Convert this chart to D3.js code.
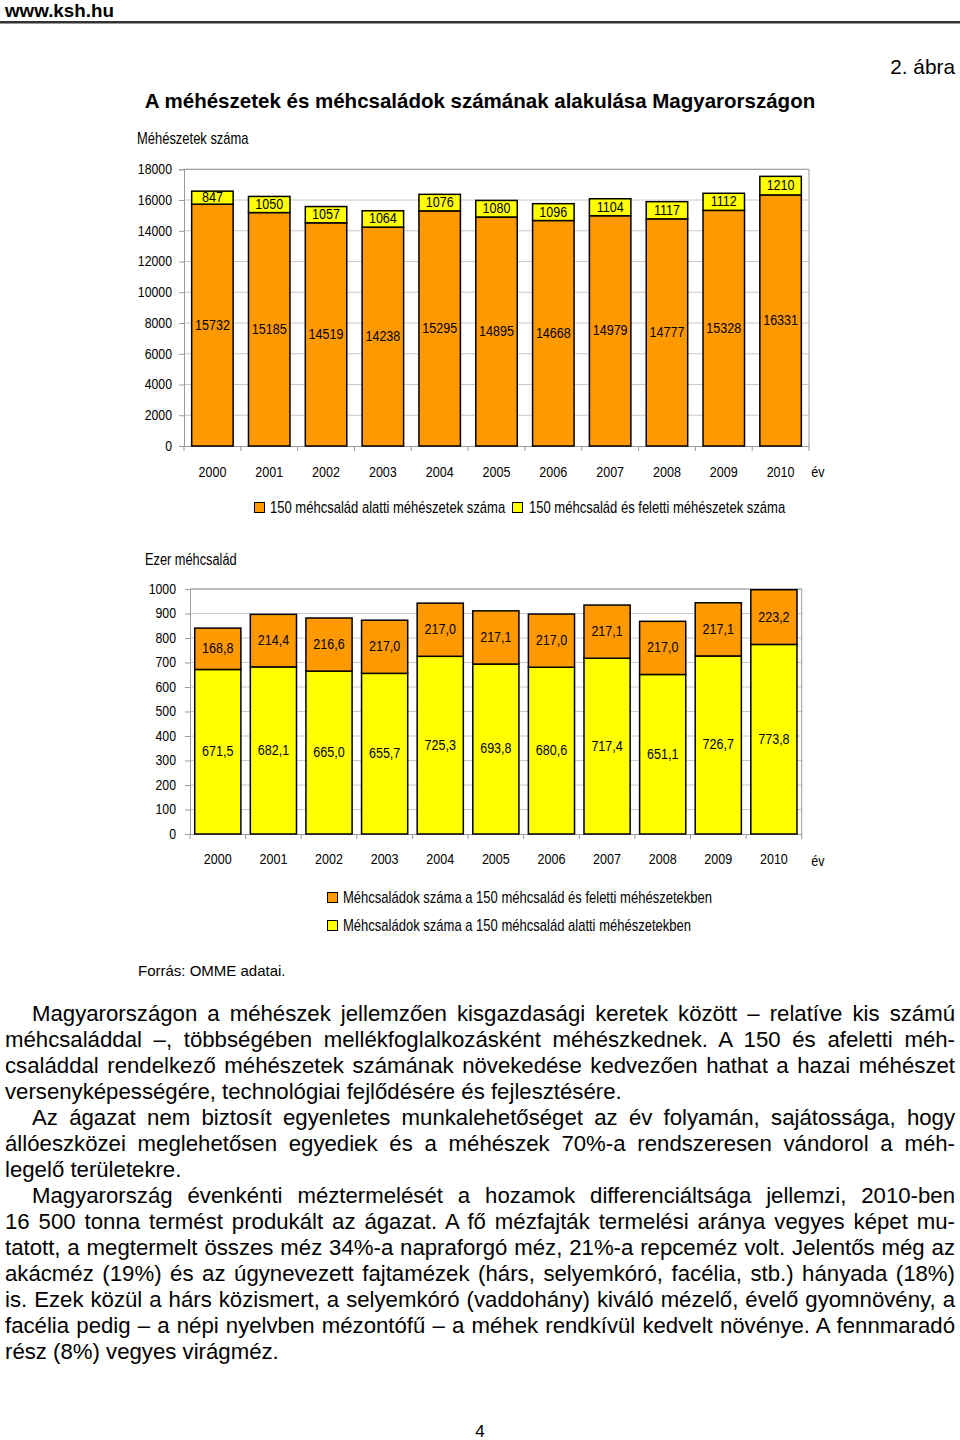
<!DOCTYPE html>
<html><head><meta charset="utf-8">
<script src="https://cdn.jsdelivr.net/npm/d3@7"></script>
<style>
html,body{margin:0;padding:0;background:#fff;}
#wrap{position:relative;width:960px;height:1440px;overflow:hidden;}
svg{position:absolute;left:0;top:0;}
.bl{position:absolute;left:5px;width:950px;height:26px;line-height:26px;font-family:"Liberation Sans",Arial,sans-serif;font-size:22.2px;color:#000;white-space:nowrap;}
.j{text-align:justify;text-align-last:justify;white-space:normal;}
.ind{padding-left:27px;width:923px;}
</style></head>
<body><div id="wrap"></div>
<script>
// ---------- data ----------
const years = ["2000","2001","2002","2003","2004","2005","2006","2007","2008","2009","2010"];
const apiariesUnder150 = [15732,15185,14519,14238,15295,14895,14668,14979,14777,15328,16331];
const apiariesOver150  = [847,1050,1057,1064,1076,1080,1096,1104,1117,1112,1210];
const coloniesUnder150 = [671.5,682.1,665.0,655.7,725.3,693.8,680.6,717.4,651.1,726.7,773.8];
const coloniesOver150  = [168.8,214.4,216.6,217.0,217.0,217.1,217.0,217.1,217.0,217.1,223.2];
const ticks1 = [0,2000,4000,6000,8000,10000,12000,14000,16000,18000];
const ticks2 = [0,100,200,300,400,500,600,700,800,900,1000];
const legend1 = ["150 méhcsalád alatti méhészetek száma","150 méhcsalád és feletti méhészetek száma"];
const legend2 = ["Méhcsaládok száma a 150 méhcsalád és feletti méhészetekben","Méhcsaládok száma a 150 méhcsalád alatti méhészetekben"];
const bodyLines = [
 ["Magyarországon a méhészek jellemzően kisgazdasági keretek között – relatíve kis számú","ij"],
 ["méhcsaláddal –, többségében mellékfoglalkozásként méhészkednek. A 150 és afeletti méh-","j"],
 ["családdal rendelkező méhészetek számának növekedése kedvezően hathat a hazai méhészet","j"],
 ["versenyképességére, technológiai fejlődésére és fejlesztésére.",""],
 ["Az ágazat nem biztosít egyenletes munkalehetőséget az év folyamán, sajátossága, hogy","ij"],
 ["állóeszközei meglehetősen egyediek és a méhészek 70%-a rendszeresen vándorol a méh-","j"],
 ["legelő területekre.",""],
 ["Magyarország évenkénti méztermelését a hozamok differenciáltsága jellemzi, 2010-ben","ij"],
 ["16 500 tonna termést produkált az ágazat. A fő mézfajták termelési aránya vegyes képet mu-","j"],
 ["tatott, a megtermelt összes méz 34%-a napraforgó méz, 21%-a repceméz volt. Jelentős még az","j"],
 ["akácméz (19%) és az úgynevezett fajtamézek (hárs, selyemkóró, facélia, stb.) hányada (18%)","j"],
 ["is. Ezek közül a hárs közismert, a selyemkóró (vaddohány) kiváló mézelő, évelő gyomnövény, a","j"],
 ["facélia pedig – a népi nyelvben mézontófű – a méhek rendkívül kedvelt növénye. A fennmaradó","j"],
 ["rész (8%) vegyes virágméz.",""]
];

// ---------- font detection ----------
const cv = document.createElement("canvas").getContext("2d");
cv.font = '15px "Liberation Sans Narrow", monospace';
const wN = cv.measureText("2000 méhcsalád abc").width;
cv.font = '15px monospace';
const wM = cv.measureText("2000 méhcsalád abc").width;
const hasNarrow = Math.abs(wN - wM) > 0.5;
const NF = hasNarrow ? '"Liberation Sans Narrow"' : '"Liberation Sans"';
const SX = hasNarrow ? 1 : 0.82;
const RF = '"Liberation Sans"';

const ORANGE = "#FF9900", YELLOW = "#FFFF00", GRID = "#c8c8c8", AX = "#9a9a9a";

const wrap = d3.select("#wrap");
const svg = wrap.append("svg").attr("width",960).attr("height",1440);

function txt(g, x, y, s, o={}) {
  return g.append("text")
    .attr("transform", `translate(${x},${y}) scale(${o.sx!==undefined?o.sx:SX},1)`)
    .attr("text-anchor", o.anchor||"start")
    .attr("dominant-baseline","central")
    .attr("font-family", o.ff||NF)
    .attr("font-size", o.size||15)
    .attr("font-weight", o.bold?"bold":"normal")
    .attr("fill","#000")
    .text(s);
}

// ---------- header ----------
txt(svg, 5, 10, "www.ksh.hu", {size:18.8, bold:true, ff:RF, sx:1});
svg.append("rect").attr("x",0).attr("y",21).attr("width",960).attr("height",2.5).attr("fill","#333");
txt(svg, 955, 66, "2. ábra", {size:20.8, anchor:"end", ff:RF, sx:1});
txt(svg, 480, 100, "A méhészetek és méhcsaládok számának alakulása Magyarországon", {size:20.5, bold:true, anchor:"middle", ff:RF, sx:1});

// ---------- generic stacked chart ----------
function stacked(cfg) {
  const g = svg.append("g");
  const x = d3.scaleBand().domain(years).range([cfg.left, cfg.right]).paddingInner(cfg.pad).paddingOuter(cfg.pad/2);
  const y = d3.scaleLinear().domain([0, cfg.max]).range([cfg.bottom, cfg.top]);
  g.selectAll(".grid").data(cfg.ticks.slice(1)).enter().append("line")
    .attr("x1", cfg.left).attr("x2", cfg.right)
    .attr("y1", d=>y(d)).attr("y2", d=>y(d))
    .attr("stroke", GRID).attr("stroke-width",1);
  g.append("line").attr("x1",cfg.right).attr("x2",cfg.right).attr("y1",cfg.top).attr("y2",cfg.bottom)
    .attr("stroke",AX).attr("stroke-width",1);
  g.append("line").attr("x1",cfg.left).attr("x2",cfg.right).attr("y1",cfg.top).attr("y2",cfg.top)
    .attr("stroke",AX).attr("stroke-width",1);
  const ya = g.append("g").attr("transform",`translate(${cfg.left},0)`)
    .call(d3.axisLeft(y).tickValues(cfg.ticks).tickSize(5).tickPadding(cfg.tickPad).tickFormat(d3.format("d")));
  ya.select(".domain").attr("stroke",AX);
  ya.selectAll(".tick line").attr("stroke",AX);
  ya.selectAll(".tick text").remove();
  cfg.ticks.forEach(t => txt(g, cfg.left-5-cfg.tickPad, y(t), String(t), {anchor:"end", size:15}));
  const xa = g.append("g").attr("transform",`translate(0,${cfg.bottom})`)
    .call(d3.axisBottom(x).tickSize(0).tickFormat(""));
  xa.select(".domain").attr("stroke",AX);
  const bounds = d3.range(years.length+1).map(i => cfg.left + i*x.step());
  g.selectAll(".xt").data(bounds).enter().append("line")
    .attr("x1",d=>d).attr("x2",d=>d).attr("y1",cfg.bottom).attr("y2",cfg.bottom+5)
    .attr("stroke",AX);
  years.forEach(yr => txt(g, x(yr)+x.bandwidth()/2, cfg.yearY, yr, {anchor:"middle", size:15.3}));
  txt(g, 818, cfg.evY, "év", {anchor:"middle", size:15.3});
  const bw = x.bandwidth();
  years.forEach((yr,i) => {
    const a = cfg.lower[i], b = cfg.upper[i];
    g.append("rect").attr("x",x(yr)).attr("width",bw)
      .attr("y",y(a)).attr("height",y(0)-y(a))
      .attr("fill",cfg.lowerColor).attr("stroke","#000").attr("stroke-width",1.5);
    g.append("rect").attr("x",x(yr)).attr("width",bw)
      .attr("y",y(a+b)).attr("height",y(a)-y(a+b))
      .attr("fill",cfg.upperColor).attr("stroke","#000").attr("stroke-width",1.5);
  });
  years.forEach((yr,i) => {
    const a = cfg.lower[i], b = cfg.upper[i];
    const cx = x(yr)+bw/2;
    txt(g, cx, y(a/2)-1, cfg.fmt(a), {anchor:"middle", size:15.3});
    txt(g, cx, y(a+b/2)-1, cfg.fmt(b), {anchor:"middle", size:15.3});
  });
  return g;
}

// Chart 1
txt(svg, 137, 139, "Méhészetek száma", {size:15.8});
stacked({left:184, right:809, top:169.3, bottom:446, max:18000, pad:0.27, ticks:ticks1, tickPad:7,
  lower:apiariesUnder150, upper:apiariesOver150, lowerColor:ORANGE, upperColor:YELLOW,
  fmt:d=>String(d), yearY:472, evY:472});
svg.append("rect").attr("x",254.5).attr("y",502.5).attr("width",10).attr("height",10).attr("fill",ORANGE).attr("stroke","#000");
txt(svg, 270, 507.5, legend1[0], {size:15.9});
svg.append("rect").attr("x",512.5).attr("y",502.5).attr("width",10).attr("height",10).attr("fill",YELLOW).attr("stroke","#000");
txt(svg, 529, 507.5, legend1[1], {size:15.9});

// Chart 2
txt(svg, 145, 560, "Ezer méhcsalád", {size:15.6});
const f1 = d => d.toFixed(1).replace(".",",");
stacked({left:190, right:801.7, top:589, bottom:834, max:1000, pad:0.17, ticks:ticks2, tickPad:9,
  lower:coloniesUnder150, upper:coloniesOver150, lowerColor:YELLOW, upperColor:ORANGE,
  fmt:f1, yearY:859, evY:861});
svg.append("rect").attr("x",327.5).attr("y",892.5).attr("width",10).attr("height",10).attr("fill",ORANGE).attr("stroke","#000");
txt(svg, 343, 897.5, legend2[0], {size:15.9});
svg.append("rect").attr("x",327.5).attr("y",920.5).attr("width",10).attr("height",10).attr("fill",YELLOW).attr("stroke","#000");
txt(svg, 343, 925.5, legend2[1], {size:15.9});

txt(svg, 138, 970, "Forrás: OMME adatai.", {size:15, ff:RF, sx:1});

// ---------- body text ----------
bodyLines.forEach((ln,i) => {
  const cls = "bl" + (ln[1].includes("j")?" j":"") + (ln[1].includes("i")?" ind":"");
  wrap.append("div").attr("class",cls).style("top",(1001+i*26)+"px").text(ln[0]);
});
wrap.append("div").style("position","absolute").style("left","0px").style("width","960px")
  .style("top","1422px").style("text-align","center")
  .style("font-family",'"Liberation Sans",Arial,sans-serif').style("font-size","17px").text("4");
</script>
</body></html>
